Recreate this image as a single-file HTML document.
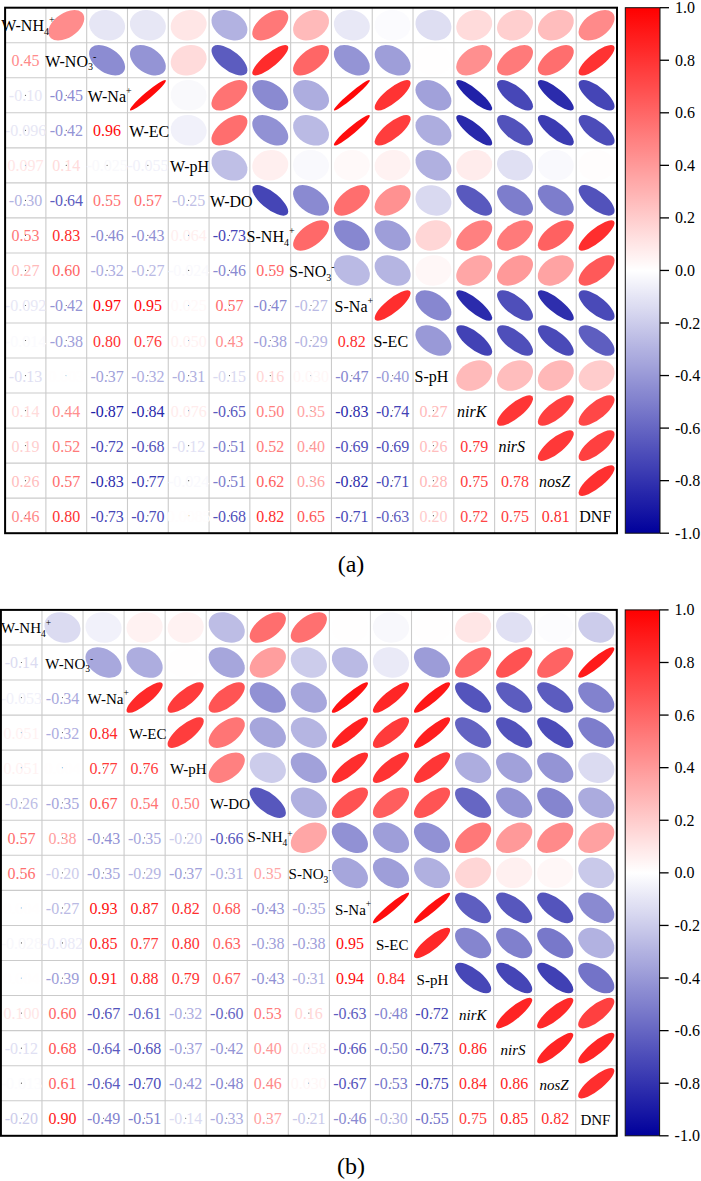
<!DOCTYPE html>
<html><head><meta charset="utf-8"><style>html,body{margin:0;padding:0;background:#fff;width:701px;height:1181px;overflow:hidden}svg{display:block}</style></head><body>
<svg width="701" height="1181" viewBox="0 0 701 1181" font-family="'Liberation Serif', serif" font-size="16">
<rect width="701" height="1181" fill="#fff"/>
<circle r="1" fill="#ff8c8c" transform="matrix(15.3178 -12.9760 -9.4340 -7.9917 66.29 25.22)"/>
<circle r="1" fill="#e6e6f5" transform="matrix(12.0680 -10.2230 -13.3416 -11.3019 107.08 25.22)"/>
<circle r="1" fill="#e7e7f5" transform="matrix(12.0948 -10.2457 -13.3174 -11.2813 147.88 25.22)"/>
<circle r="1" fill="#ffe6e6" transform="matrix(13.3234 -11.2865 -12.0881 -10.2400 188.67 25.22)"/>
<circle r="1" fill="#b2b2e1" transform="matrix(10.6429 -9.0158 -14.5039 -12.2865 229.46 25.22)"/>
<circle r="1" fill="#ff7878" transform="matrix(15.7347 -13.3291 -8.7209 -7.3876 270.26 25.22)"/>
<circle r="1" fill="#ffbaba" transform="matrix(14.3356 -12.1439 -10.8686 -9.2070 311.05 25.22)"/>
<circle r="1" fill="#e8e8f6" transform="matrix(12.1215 -10.2683 -13.2930 -11.2607 351.84 25.22)"/>
<circle r="1" fill="#fbfbfe" transform="matrix(12.6314 -10.7003 -12.8095 -10.8511 392.64 25.22)"/>
<circle r="1" fill="#dedef2" transform="matrix(11.8651 -10.0511 -13.5223 -11.4550 433.43 25.22)"/>
<circle r="1" fill="#ffdbdb" transform="matrix(13.5820 -11.5056 -11.7967 -9.9932 474.22 25.22)"/>
<circle r="1" fill="#ffcfcf" transform="matrix(13.8767 -11.7552 -11.4487 -9.6984 515.02 25.22)"/>
<circle r="1" fill="#ffbdbd" transform="matrix(14.2790 -12.0960 -10.9428 -9.2698 555.81 25.22)"/>
<circle r="1" fill="#ff8a8a" transform="matrix(15.3705 -13.0206 -9.3478 -7.9187 596.60 25.22)"/>
<circle r="1" fill="#8c8cd2" transform="matrix(9.4340 -7.9917 -15.3178 -12.9760 107.08 60.25)"/>
<circle r="1" fill="#9494d5" transform="matrix(9.6878 -8.2067 -15.1585 -12.8410 147.88 60.25)"/>
<circle r="1" fill="#ffdbdb" transform="matrix(13.5820 -11.5056 -11.7967 -9.9932 188.67 60.25)"/>
<circle r="1" fill="#5c5cbf" transform="matrix(7.6325 -6.4656 -16.2905 -13.8000 229.46 60.25)"/>
<circle r="1" fill="#ff2b2b" transform="matrix(17.2083 -14.5774 -5.2449 -4.4430 270.26 60.25)"/>
<circle r="1" fill="#ff6666" transform="matrix(16.0906 -13.6306 -8.0453 -6.8153 311.05 60.25)"/>
<circle r="1" fill="#9494d5" transform="matrix(9.6878 -8.2067 -15.1585 -12.8410 351.84 60.25)"/>
<circle r="1" fill="#9e9ed9" transform="matrix(10.0163 -8.4850 -14.9435 -12.6589 392.64 60.25)"/>
<circle r="1" fill="#fffefe" transform="matrix(12.7398 -10.7921 -12.7017 -10.7598 433.43 60.25)"/>
<circle r="1" fill="#ff8f8f" transform="matrix(15.2649 -12.9311 -9.5193 -8.0640 474.22 60.25)"/>
<circle r="1" fill="#ff7a7a" transform="matrix(15.6832 -13.2855 -8.8132 -7.4658 515.02 60.25)"/>
<circle r="1" fill="#ff6e6e" transform="matrix(15.9391 -13.5022 -8.3416 -7.0663 555.81 60.25)"/>
<circle r="1" fill="#ff3333" transform="matrix(17.0667 -14.4575 -5.6889 -4.8192 596.60 60.25)"/>
<circle r="1" fill="#ff0a0a" transform="matrix(17.8091 -15.0863 -2.5442 -2.1552 147.88 95.28)"/>
<circle r="1" fill="#f9f9fc" transform="matrix(12.5607 -10.6404 -12.8788 -10.9098 188.67 95.28)"/>
<circle r="1" fill="#ff7373" transform="matrix(15.8372 -13.4160 -8.5333 -7.2287 229.46 95.28)"/>
<circle r="1" fill="#8a8ad1" transform="matrix(9.3478 -7.9187 -15.3705 -13.0206 270.26 95.28)"/>
<circle r="1" fill="#adaddf" transform="matrix(10.4898 -8.8861 -14.6150 -12.3806 311.05 95.28)"/>
<circle r="1" fill="#ff0808" transform="matrix(17.8544 -15.1248 -2.2033 -1.8664 351.84 95.28)"/>
<circle r="1" fill="#ff3333" transform="matrix(17.0667 -14.4575 -5.6889 -4.8192 392.64 95.28)"/>
<circle r="1" fill="#a1a1da" transform="matrix(10.0968 -8.5531 -14.8893 -12.6129 433.43 95.28)"/>
<circle r="1" fill="#2121a8" transform="matrix(4.5865 -3.8853 -17.3954 -14.7359 474.22 95.28)"/>
<circle r="1" fill="#4747b7" transform="matrix(6.7312 -5.7021 -16.6831 -14.1325 515.02 95.28)"/>
<circle r="1" fill="#2b2bac" transform="matrix(5.2449 -4.4430 -17.2083 -14.5774 555.81 95.28)"/>
<circle r="1" fill="#4545b6" transform="matrix(6.6099 -5.5993 -16.7315 -14.1736 596.60 95.28)"/>
<circle r="1" fill="#f1f1fa" transform="matrix(12.3660 -10.4754 -13.0659 -11.0683 188.67 130.32)"/>
<circle r="1" fill="#ff6e6e" transform="matrix(15.9391 -13.5022 -8.3416 -7.0663 229.46 130.32)"/>
<circle r="1" fill="#9191d4" transform="matrix(9.6040 -8.1357 -15.2118 -12.8862 270.26 130.32)"/>
<circle r="1" fill="#babae4" transform="matrix(10.8686 -9.2070 -14.3356 -12.1439 311.05 130.32)"/>
<circle r="1" fill="#ff0d0d" transform="matrix(17.7636 -15.0478 -2.8444 -2.4096 351.84 130.32)"/>
<circle r="1" fill="#ff3d3d" transform="matrix(16.8760 -14.2959 -6.2319 -5.2791 392.64 130.32)"/>
<circle r="1" fill="#adaddf" transform="matrix(10.4898 -8.8861 -14.6150 -12.3806 433.43 130.32)"/>
<circle r="1" fill="#2929ab" transform="matrix(5.0883 -4.3104 -17.2553 -14.6172 474.22 130.32)"/>
<circle r="1" fill="#5252bb" transform="matrix(7.1959 -6.0958 -16.4880 -13.9672 515.02 130.32)"/>
<circle r="1" fill="#3b3bb2" transform="matrix(6.1007 -5.1680 -16.9239 -14.3365 555.81 130.32)"/>
<circle r="1" fill="#4c4cb9" transform="matrix(6.9674 -5.9022 -16.5858 -14.0501 596.60 130.32)"/>
<circle r="1" fill="#bfbfe6" transform="matrix(11.0165 -9.3322 -14.2222 -12.0479 229.46 165.35)"/>
<circle r="1" fill="#ffefef" transform="matrix(13.1215 -11.1154 -12.3070 -10.4254 270.26 165.35)"/>
<circle r="1" fill="#f9f9fd" transform="matrix(12.5672 -10.6459 -12.8725 -10.9045 311.05 165.35)"/>
<circle r="1" fill="#fff9f9" transform="matrix(12.8788 -10.9098 -12.5607 -10.6404 351.84 165.35)"/>
<circle r="1" fill="#fff2f2" transform="matrix(13.0349 -11.0421 -12.3987 -10.5031 392.64 165.35)"/>
<circle r="1" fill="#b0b0e0" transform="matrix(10.5667 -8.9512 -14.5596 -12.3336 433.43 165.35)"/>
<circle r="1" fill="#ffecec" transform="matrix(13.1953 -11.1779 -12.2278 -10.3584 474.22 165.35)"/>
<circle r="1" fill="#e0e0f3" transform="matrix(11.9331 -10.1087 -13.4624 -11.4042 515.02 165.35)"/>
<circle r="1" fill="#f9f9fd" transform="matrix(12.5672 -10.6459 -12.8725 -10.9045 555.81 165.35)"/>
<circle r="1" fill="#fffdfd" transform="matrix(12.7747 -10.8217 -12.6666 -10.7301 596.60 165.35)"/>
<circle r="1" fill="#4545b6" transform="matrix(6.6099 -5.5993 -16.7315 -14.1736 270.26 200.38)"/>
<circle r="1" fill="#8a8ad1" transform="matrix(9.3478 -7.9187 -15.3705 -13.0206 311.05 200.38)"/>
<circle r="1" fill="#ff6e6e" transform="matrix(15.9391 -13.5022 -8.3416 -7.0663 351.84 200.38)"/>
<circle r="1" fill="#ff9191" transform="matrix(15.2118 -12.8862 -9.6040 -8.1357 392.64 200.38)"/>
<circle r="1" fill="#d9d9f0" transform="matrix(11.7280 -9.9349 -13.6415 -11.5559 433.43 200.38)"/>
<circle r="1" fill="#5959be" transform="matrix(7.5257 -6.3751 -16.3401 -13.8420 474.22 200.38)"/>
<circle r="1" fill="#7d7dcc" transform="matrix(8.9045 -7.5432 -15.6315 -13.2417 515.02 200.38)"/>
<circle r="1" fill="#7d7dcc" transform="matrix(8.9045 -7.5432 -15.6315 -13.2417 555.81 200.38)"/>
<circle r="1" fill="#5252bb" transform="matrix(7.1959 -6.0958 -16.4880 -13.9672 596.60 200.38)"/>
<circle r="1" fill="#ff6969" transform="matrix(16.0403 -13.5880 -8.1453 -6.9000 311.05 235.42)"/>
<circle r="1" fill="#8787d0" transform="matrix(9.2608 -7.8450 -15.4231 -13.0651 351.84 235.42)"/>
<circle r="1" fill="#9e9ed9" transform="matrix(10.0163 -8.4850 -14.9435 -12.6589 392.64 235.42)"/>
<circle r="1" fill="#ffd6d6" transform="matrix(13.7007 -11.6061 -11.6588 -9.8763 433.43 235.42)"/>
<circle r="1" fill="#ff8080" transform="matrix(15.5797 -13.1978 -8.9949 -7.6197 474.22 235.42)"/>
<circle r="1" fill="#ff7a7a" transform="matrix(15.6832 -13.2855 -8.8132 -7.4658 515.02 235.42)"/>
<circle r="1" fill="#ff6161" transform="matrix(16.1909 -13.7156 -7.8416 -6.6427 555.81 235.42)"/>
<circle r="1" fill="#ff2e2e" transform="matrix(17.1612 -14.5376 -5.3970 -4.5718 596.60 235.42)"/>
<circle r="1" fill="#babae4" transform="matrix(10.8686 -9.2070 -14.3356 -12.1439 351.84 270.45)"/>
<circle r="1" fill="#b5b5e2" transform="matrix(10.7187 -9.0800 -14.4480 -12.2391 392.64 270.45)"/>
<circle r="1" fill="#fff7f7" transform="matrix(12.9102 -10.9364 -12.5285 -10.6131 433.43 270.45)"/>
<circle r="1" fill="#ffa6a6" transform="matrix(14.7802 -12.5205 -10.2558 -8.6879 474.22 270.45)"/>
<circle r="1" fill="#ff9999" transform="matrix(15.0514 -12.7503 -9.8535 -8.3470 515.02 270.45)"/>
<circle r="1" fill="#ffa3a3" transform="matrix(14.8348 -12.5668 -10.1766 -8.6208 555.81 270.45)"/>
<circle r="1" fill="#ff5959" transform="matrix(16.3401 -13.8420 -7.5257 -6.3751 596.60 270.45)"/>
<circle r="1" fill="#ff2e2e" transform="matrix(17.1612 -14.5376 -5.3970 -4.5718 392.64 305.48)"/>
<circle r="1" fill="#8787d0" transform="matrix(9.2608 -7.8450 -15.4231 -13.0651 433.43 305.48)"/>
<circle r="1" fill="#2b2bac" transform="matrix(5.2449 -4.4430 -17.2083 -14.5774 474.22 305.48)"/>
<circle r="1" fill="#4f4fba" transform="matrix(7.0826 -5.9998 -16.5370 -14.0087 515.02 305.48)"/>
<circle r="1" fill="#2e2ead" transform="matrix(5.3970 -4.5719 -17.1612 -14.5376 555.81 305.48)"/>
<circle r="1" fill="#4a4ab8" transform="matrix(6.8503 -5.8030 -16.6345 -14.0914 596.60 305.48)"/>
<circle r="1" fill="#9999d7" transform="matrix(9.8535 -8.3470 -15.0514 -12.7503 433.43 340.52)"/>
<circle r="1" fill="#4242b5" transform="matrix(6.4863 -5.4947 -16.7798 -14.2145 474.22 340.52)"/>
<circle r="1" fill="#4f4fba" transform="matrix(7.0826 -5.9998 -16.5370 -14.0087 515.02 340.52)"/>
<circle r="1" fill="#4a4ab8" transform="matrix(6.8503 -5.8030 -16.6345 -14.0914 555.81 340.52)"/>
<circle r="1" fill="#5e5ec0" transform="matrix(7.7377 -6.5548 -16.2408 -13.7578 596.60 340.52)"/>
<circle r="1" fill="#ffbaba" transform="matrix(14.3356 -12.1439 -10.8686 -9.2070 474.22 375.55)"/>
<circle r="1" fill="#ffbdbd" transform="matrix(14.2790 -12.0960 -10.9428 -9.2698 515.02 375.55)"/>
<circle r="1" fill="#ffb8b8" transform="matrix(14.3919 -12.1916 -10.7939 -9.1437 555.81 375.55)"/>
<circle r="1" fill="#ffcccc" transform="matrix(13.9349 -11.8045 -11.3778 -9.6383 596.60 375.55)"/>
<circle r="1" fill="#ff3636" transform="matrix(17.0192 -14.4172 -5.8294 -4.9382 515.02 410.58)"/>
<circle r="1" fill="#ff4040" transform="matrix(16.8280 -14.2552 -6.3604 -5.3880 555.81 410.58)"/>
<circle r="1" fill="#ff4747" transform="matrix(16.6831 -14.1325 -6.7312 -5.7021 596.60 410.58)"/>
<circle r="1" fill="#ff3838" transform="matrix(16.9716 -14.3769 -5.9666 -5.0544 555.81 445.62)"/>
<circle r="1" fill="#ff4040" transform="matrix(16.8280 -14.2552 -6.3604 -5.3880 596.60 445.62)"/>
<circle r="1" fill="#ff3030" transform="matrix(17.1140 -14.4976 -5.5448 -4.6971 596.60 480.65)"/>
<path d="M45.89 7.70V533.20M5.10 42.73H617.00M86.69 7.70V533.20M5.10 77.77H617.00M127.48 7.70V533.20M5.10 112.80H617.00M168.27 7.70V533.20M5.10 147.83H617.00M209.07 7.70V533.20M5.10 182.87H617.00M249.86 7.70V533.20M5.10 217.90H617.00M290.65 7.70V533.20M5.10 252.93H617.00M331.45 7.70V533.20M5.10 287.97H617.00M372.24 7.70V533.20M5.10 323.00H617.00M413.03 7.70V533.20M5.10 358.03H617.00M453.83 7.70V533.20M5.10 393.07H617.00M494.62 7.70V533.20M5.10 428.10H617.00M535.41 7.70V533.20M5.10 463.13H617.00M576.21 7.70V533.20M5.10 498.17H617.00" stroke="#cbcbcb" stroke-width="1.1" fill="none"/>
<g fill="#555"><circle cx="25.50" cy="60.25" r="0.6"/><circle cx="25.50" cy="95.28" r="0.6"/><circle cx="66.29" cy="95.28" r="0.6"/><circle cx="25.50" cy="130.32" r="0.6"/><circle cx="66.29" cy="130.32" r="0.6"/><circle cx="107.08" cy="130.32" r="0.6"/><circle cx="25.50" cy="165.35" r="0.6"/><circle cx="66.29" cy="165.35" r="0.6"/><circle cx="107.08" cy="165.35" r="0.6"/><circle cx="147.88" cy="165.35" r="0.6"/><circle cx="25.50" cy="200.38" r="0.6"/><circle cx="66.29" cy="200.38" r="0.6"/><circle cx="107.08" cy="200.38" r="0.6"/><circle cx="147.88" cy="200.38" r="0.6"/><circle cx="188.67" cy="200.38" r="0.6"/><circle cx="25.50" cy="235.42" r="0.6"/><circle cx="66.29" cy="235.42" r="0.6"/><circle cx="107.08" cy="235.42" r="0.6"/><circle cx="147.88" cy="235.42" r="0.6"/><circle cx="188.67" cy="235.42" r="0.6"/><circle cx="229.46" cy="235.42" r="0.6"/><circle cx="25.50" cy="270.45" r="0.6"/><circle cx="66.29" cy="270.45" r="0.6"/><circle cx="107.08" cy="270.45" r="0.6"/><circle cx="147.88" cy="270.45" r="0.6"/><circle cx="188.67" cy="270.45" r="0.6"/><circle cx="229.46" cy="270.45" r="0.6"/><circle cx="270.26" cy="270.45" r="0.6"/><circle cx="25.50" cy="305.48" r="0.6"/><circle cx="66.29" cy="305.48" r="0.6"/><circle cx="107.08" cy="305.48" r="0.6"/><circle cx="147.88" cy="305.48" r="0.6"/><circle cx="188.67" cy="305.48" r="0.6"/><circle cx="229.46" cy="305.48" r="0.6"/><circle cx="270.26" cy="305.48" r="0.6"/><circle cx="311.05" cy="305.48" r="0.6"/><circle cx="25.50" cy="340.52" r="0.6"/><circle cx="66.29" cy="340.52" r="0.6"/><circle cx="107.08" cy="340.52" r="0.6"/><circle cx="147.88" cy="340.52" r="0.6"/><circle cx="188.67" cy="340.52" r="0.6"/><circle cx="229.46" cy="340.52" r="0.6"/><circle cx="270.26" cy="340.52" r="0.6"/><circle cx="311.05" cy="340.52" r="0.6"/><circle cx="351.84" cy="340.52" r="0.6"/><circle cx="25.50" cy="375.55" r="0.6"/><circle cx="66.29" cy="375.55" r="0.6"/><circle cx="107.08" cy="375.55" r="0.6"/><circle cx="147.88" cy="375.55" r="0.6"/><circle cx="188.67" cy="375.55" r="0.6"/><circle cx="229.46" cy="375.55" r="0.6"/><circle cx="270.26" cy="375.55" r="0.6"/><circle cx="311.05" cy="375.55" r="0.6"/><circle cx="351.84" cy="375.55" r="0.6"/><circle cx="392.64" cy="375.55" r="0.6"/><circle cx="25.50" cy="410.58" r="0.6"/><circle cx="66.29" cy="410.58" r="0.6"/><circle cx="107.08" cy="410.58" r="0.6"/><circle cx="147.88" cy="410.58" r="0.6"/><circle cx="188.67" cy="410.58" r="0.6"/><circle cx="229.46" cy="410.58" r="0.6"/><circle cx="270.26" cy="410.58" r="0.6"/><circle cx="311.05" cy="410.58" r="0.6"/><circle cx="351.84" cy="410.58" r="0.6"/><circle cx="392.64" cy="410.58" r="0.6"/><circle cx="433.43" cy="410.58" r="0.6"/><circle cx="25.50" cy="445.62" r="0.6"/><circle cx="66.29" cy="445.62" r="0.6"/><circle cx="107.08" cy="445.62" r="0.6"/><circle cx="147.88" cy="445.62" r="0.6"/><circle cx="188.67" cy="445.62" r="0.6"/><circle cx="229.46" cy="445.62" r="0.6"/><circle cx="270.26" cy="445.62" r="0.6"/><circle cx="311.05" cy="445.62" r="0.6"/><circle cx="351.84" cy="445.62" r="0.6"/><circle cx="392.64" cy="445.62" r="0.6"/><circle cx="433.43" cy="445.62" r="0.6"/><circle cx="474.22" cy="445.62" r="0.6"/><circle cx="25.50" cy="480.65" r="0.6"/><circle cx="66.29" cy="480.65" r="0.6"/><circle cx="107.08" cy="480.65" r="0.6"/><circle cx="147.88" cy="480.65" r="0.6"/><circle cx="188.67" cy="480.65" r="0.6"/><circle cx="229.46" cy="480.65" r="0.6"/><circle cx="270.26" cy="480.65" r="0.6"/><circle cx="311.05" cy="480.65" r="0.6"/><circle cx="351.84" cy="480.65" r="0.6"/><circle cx="392.64" cy="480.65" r="0.6"/><circle cx="433.43" cy="480.65" r="0.6"/><circle cx="474.22" cy="480.65" r="0.6"/><circle cx="515.02" cy="480.65" r="0.6"/><circle cx="25.50" cy="515.68" r="0.6"/><circle cx="66.29" cy="515.68" r="0.6"/><circle cx="107.08" cy="515.68" r="0.6"/><circle cx="147.88" cy="515.68" r="0.6"/><circle cx="188.67" cy="515.68" r="0.6"/><circle cx="229.46" cy="515.68" r="0.6"/><circle cx="270.26" cy="515.68" r="0.6"/><circle cx="311.05" cy="515.68" r="0.6"/><circle cx="351.84" cy="515.68" r="0.6"/><circle cx="392.64" cy="515.68" r="0.6"/><circle cx="433.43" cy="515.68" r="0.6"/><circle cx="474.22" cy="515.68" r="0.6"/><circle cx="515.02" cy="515.68" r="0.6"/><circle cx="555.81" cy="515.68" r="0.6"/></g>
<text x="25.50" y="66.25" fill="#ff8c8c" text-anchor="middle">0.45</text>
<text x="25.50" y="101.28" fill="#e6e6f5" text-anchor="middle">-0.10</text>
<text x="66.29" y="101.28" fill="#8c8cd2" text-anchor="middle">-0.45</text>
<text x="25.50" y="136.32" fill="#e7e7f5" text-anchor="middle">-0.096</text>
<text x="66.29" y="136.32" fill="#9494d5" text-anchor="middle">-0.42</text>
<text x="107.08" y="136.32" fill="#ff0a0a" text-anchor="middle">0.96</text>
<text x="25.50" y="171.35" fill="#ffe6e6" text-anchor="middle">0.097</text>
<text x="66.29" y="171.35" fill="#ffdbdb" text-anchor="middle">0.14</text>
<text x="107.08" y="171.35" fill="#f9f9fc" text-anchor="middle">-0.025</text>
<text x="147.88" y="171.35" fill="#f1f1fa" text-anchor="middle">-0.055</text>
<text x="25.50" y="206.38" fill="#b2b2e1" text-anchor="middle">-0.30</text>
<text x="66.29" y="206.38" fill="#5c5cbf" text-anchor="middle">-0.64</text>
<text x="107.08" y="206.38" fill="#ff7373" text-anchor="middle">0.55</text>
<text x="147.88" y="206.38" fill="#ff6e6e" text-anchor="middle">0.57</text>
<text x="188.67" y="206.38" fill="#bfbfe6" text-anchor="middle">-0.25</text>
<text x="25.50" y="241.42" fill="#ff7878" text-anchor="middle">0.53</text>
<text x="66.29" y="241.42" fill="#ff2b2b" text-anchor="middle">0.83</text>
<text x="107.08" y="241.42" fill="#8a8ad1" text-anchor="middle">-0.46</text>
<text x="147.88" y="241.42" fill="#9191d4" text-anchor="middle">-0.43</text>
<text x="188.67" y="241.42" fill="#ffefef" text-anchor="middle">0.064</text>
<text x="229.46" y="241.42" fill="#4545b6" text-anchor="middle">-0.73</text>
<text x="25.50" y="276.45" fill="#ffbaba" text-anchor="middle">0.27</text>
<text x="66.29" y="276.45" fill="#ff6666" text-anchor="middle">0.60</text>
<text x="107.08" y="276.45" fill="#adaddf" text-anchor="middle">-0.32</text>
<text x="147.88" y="276.45" fill="#babae4" text-anchor="middle">-0.27</text>
<text x="188.67" y="276.45" fill="#f9f9fd" text-anchor="middle">-0.024</text>
<text x="229.46" y="276.45" fill="#8a8ad1" text-anchor="middle">-0.46</text>
<text x="270.26" y="276.45" fill="#ff6969" text-anchor="middle">0.59</text>
<text x="25.50" y="311.48" fill="#e8e8f6" text-anchor="middle">-0.092</text>
<text x="66.29" y="311.48" fill="#9494d5" text-anchor="middle">-0.42</text>
<text x="107.08" y="311.48" fill="#ff0808" text-anchor="middle">0.97</text>
<text x="147.88" y="311.48" fill="#ff0d0d" text-anchor="middle">0.95</text>
<text x="188.67" y="311.48" fill="#fff9f9" text-anchor="middle">0.025</text>
<text x="229.46" y="311.48" fill="#ff6e6e" text-anchor="middle">0.57</text>
<text x="270.26" y="311.48" fill="#8787d0" text-anchor="middle">-0.47</text>
<text x="311.05" y="311.48" fill="#babae4" text-anchor="middle">-0.27</text>
<text x="25.50" y="346.52" fill="#fbfbfe" text-anchor="middle">-0.014</text>
<text x="66.29" y="346.52" fill="#9e9ed9" text-anchor="middle">-0.38</text>
<text x="107.08" y="346.52" fill="#ff3333" text-anchor="middle">0.80</text>
<text x="147.88" y="346.52" fill="#ff3d3d" text-anchor="middle">0.76</text>
<text x="188.67" y="346.52" fill="#fff2f2" text-anchor="middle">0.050</text>
<text x="229.46" y="346.52" fill="#ff9191" text-anchor="middle">0.43</text>
<text x="270.26" y="346.52" fill="#9e9ed9" text-anchor="middle">-0.38</text>
<text x="311.05" y="346.52" fill="#b5b5e2" text-anchor="middle">-0.29</text>
<text x="351.84" y="346.52" fill="#ff2e2e" text-anchor="middle">0.82</text>
<text x="25.50" y="381.55" fill="#dedef2" text-anchor="middle">-0.13</text>
<text x="66.29" y="381.55" fill="#fffefe" text-anchor="middle">0.003</text>
<text x="107.08" y="381.55" fill="#a1a1da" text-anchor="middle">-0.37</text>
<text x="147.88" y="381.55" fill="#adaddf" text-anchor="middle">-0.32</text>
<text x="188.67" y="381.55" fill="#b0b0e0" text-anchor="middle">-0.31</text>
<text x="229.46" y="381.55" fill="#d9d9f0" text-anchor="middle">-0.15</text>
<text x="270.26" y="381.55" fill="#ffd6d6" text-anchor="middle">0.16</text>
<text x="311.05" y="381.55" fill="#fff7f7" text-anchor="middle">0.030</text>
<text x="351.84" y="381.55" fill="#8787d0" text-anchor="middle">-0.47</text>
<text x="392.64" y="381.55" fill="#9999d7" text-anchor="middle">-0.40</text>
<text x="25.50" y="416.58" fill="#ffdbdb" text-anchor="middle">0.14</text>
<text x="66.29" y="416.58" fill="#ff8f8f" text-anchor="middle">0.44</text>
<text x="107.08" y="416.58" fill="#2121a8" text-anchor="middle">-0.87</text>
<text x="147.88" y="416.58" fill="#2929ab" text-anchor="middle">-0.84</text>
<text x="188.67" y="416.58" fill="#ffecec" text-anchor="middle">0.076</text>
<text x="229.46" y="416.58" fill="#5959be" text-anchor="middle">-0.65</text>
<text x="270.26" y="416.58" fill="#ff8080" text-anchor="middle">0.50</text>
<text x="311.05" y="416.58" fill="#ffa6a6" text-anchor="middle">0.35</text>
<text x="351.84" y="416.58" fill="#2b2bac" text-anchor="middle">-0.83</text>
<text x="392.64" y="416.58" fill="#4242b5" text-anchor="middle">-0.74</text>
<text x="433.43" y="416.58" fill="#ffbaba" text-anchor="middle">0.27</text>
<text x="25.50" y="451.62" fill="#ffcfcf" text-anchor="middle">0.19</text>
<text x="66.29" y="451.62" fill="#ff7a7a" text-anchor="middle">0.52</text>
<text x="107.08" y="451.62" fill="#4747b7" text-anchor="middle">-0.72</text>
<text x="147.88" y="451.62" fill="#5252bb" text-anchor="middle">-0.68</text>
<text x="188.67" y="451.62" fill="#e0e0f3" text-anchor="middle">-0.12</text>
<text x="229.46" y="451.62" fill="#7d7dcc" text-anchor="middle">-0.51</text>
<text x="270.26" y="451.62" fill="#ff7a7a" text-anchor="middle">0.52</text>
<text x="311.05" y="451.62" fill="#ff9999" text-anchor="middle">0.40</text>
<text x="351.84" y="451.62" fill="#4f4fba" text-anchor="middle">-0.69</text>
<text x="392.64" y="451.62" fill="#4f4fba" text-anchor="middle">-0.69</text>
<text x="433.43" y="451.62" fill="#ffbdbd" text-anchor="middle">0.26</text>
<text x="474.22" y="451.62" fill="#ff3636" text-anchor="middle">0.79</text>
<text x="25.50" y="486.65" fill="#ffbdbd" text-anchor="middle">0.26</text>
<text x="66.29" y="486.65" fill="#ff6e6e" text-anchor="middle">0.57</text>
<text x="107.08" y="486.65" fill="#2b2bac" text-anchor="middle">-0.83</text>
<text x="147.88" y="486.65" fill="#3b3bb2" text-anchor="middle">-0.77</text>
<text x="188.67" y="486.65" fill="#f9f9fd" text-anchor="middle">-0.024</text>
<text x="229.46" y="486.65" fill="#7d7dcc" text-anchor="middle">-0.51</text>
<text x="270.26" y="486.65" fill="#ff6161" text-anchor="middle">0.62</text>
<text x="311.05" y="486.65" fill="#ffa3a3" text-anchor="middle">0.36</text>
<text x="351.84" y="486.65" fill="#2e2ead" text-anchor="middle">-0.82</text>
<text x="392.64" y="486.65" fill="#4a4ab8" text-anchor="middle">-0.71</text>
<text x="433.43" y="486.65" fill="#ffb8b8" text-anchor="middle">0.28</text>
<text x="474.22" y="486.65" fill="#ff4040" text-anchor="middle">0.75</text>
<text x="515.02" y="486.65" fill="#ff3838" text-anchor="middle">0.78</text>
<text x="25.50" y="521.68" fill="#ff8a8a" text-anchor="middle">0.46</text>
<text x="66.29" y="521.68" fill="#ff3333" text-anchor="middle">0.80</text>
<text x="107.08" y="521.68" fill="#4545b6" text-anchor="middle">-0.73</text>
<text x="147.88" y="521.68" fill="#4c4cb9" text-anchor="middle">-0.70</text>
<text x="188.67" y="521.68" fill="#fffdfd" text-anchor="middle">0.0085</text>
<text x="229.46" y="521.68" fill="#5252bb" text-anchor="middle">-0.68</text>
<text x="270.26" y="521.68" fill="#ff2e2e" text-anchor="middle">0.82</text>
<text x="311.05" y="521.68" fill="#ff5959" text-anchor="middle">0.65</text>
<text x="351.84" y="521.68" fill="#4a4ab8" text-anchor="middle">-0.71</text>
<text x="392.64" y="521.68" fill="#5e5ec0" text-anchor="middle">-0.63</text>
<text x="433.43" y="521.68" fill="#ffcccc" text-anchor="middle">0.20</text>
<text x="474.22" y="521.68" fill="#ff4747" text-anchor="middle">0.72</text>
<text x="515.02" y="521.68" fill="#ff4040" text-anchor="middle">0.75</text>
<text x="555.81" y="521.68" fill="#ff3030" text-anchor="middle">0.81</text>
<text x="1.30" y="30.72" fill="#000" font-size="16.0">W-NH<tspan font-size="10.0" dy="3.8">4</tspan><tspan font-size="10.0" dy="-11.1">+</tspan></text>
<text x="45.30" y="66.55" fill="#000" font-size="16.0">W-NO<tspan font-size="10.0" dy="3.8">3</tspan><tspan font-size="10.0" dy="-10.1">-</tspan></text>
<text x="87.80" y="101.58" fill="#000" font-size="16.0">W-Na<tspan font-size="10.0" dy="-7.3">+</tspan></text>
<text x="129.20" y="136.62" fill="#000" font-size="16.0">W-EC</text>
<text x="170.00" y="171.65" fill="#000" font-size="16.0">W-pH</text>
<text x="210.00" y="206.68" fill="#000" font-size="16.0">W-DO</text>
<text x="246.60" y="241.72" fill="#000" font-size="16.0">S-NH<tspan font-size="10.0" dy="3.8">4</tspan><tspan font-size="10.0" dy="-11.1">+</tspan></text>
<text x="289.00" y="276.75" fill="#000" font-size="16.0">S-NO<tspan font-size="10.0" dy="3.8">3</tspan><tspan font-size="10.0" dy="-10.1">-</tspan></text>
<text x="334.60" y="311.78" fill="#000" font-size="16.0">S-Na<tspan font-size="10.0" dy="-7.3">+</tspan></text>
<text x="373.40" y="346.82" fill="#000" font-size="16.0">S-EC</text>
<text x="414.60" y="381.85" fill="#000" font-size="16.0">S-pH</text>
<text x="457.00" y="416.88" fill="#000" font-size="16.0" font-style="italic">nirK</text>
<text x="498.40" y="451.92" fill="#000" font-size="16.0" font-style="italic">nirS</text>
<text x="539.00" y="486.95" fill="#000" font-size="16.0" font-style="italic">nosZ</text>
<text x="579.30" y="521.98" fill="#000" font-size="16.0">DNF</text>
<rect x="5.10" y="7.70" width="611.90" height="525.50" fill="none" stroke="#000" stroke-width="2"/>
<defs><linearGradient id="g7" x1="0" y1="0" x2="0" y2="1"><stop offset="0.0000" stop-color="#ff0000"/><stop offset="0.0250" stop-color="#ff0d0d"/><stop offset="0.0500" stop-color="#ff1a1a"/><stop offset="0.0750" stop-color="#ff2626"/><stop offset="0.1000" stop-color="#ff3333"/><stop offset="0.1250" stop-color="#ff4040"/><stop offset="0.1500" stop-color="#ff4c4c"/><stop offset="0.1750" stop-color="#ff5959"/><stop offset="0.2000" stop-color="#ff6666"/><stop offset="0.2250" stop-color="#ff7373"/><stop offset="0.2500" stop-color="#ff8080"/><stop offset="0.2750" stop-color="#ff8c8c"/><stop offset="0.3000" stop-color="#ff9999"/><stop offset="0.3250" stop-color="#ffa6a6"/><stop offset="0.3500" stop-color="#ffb2b2"/><stop offset="0.3750" stop-color="#ffbfbf"/><stop offset="0.4000" stop-color="#ffcccc"/><stop offset="0.4250" stop-color="#ffd9d9"/><stop offset="0.4500" stop-color="#ffe6e6"/><stop offset="0.4750" stop-color="#fff2f2"/><stop offset="0.5000" stop-color="#ffffff"/><stop offset="0.5250" stop-color="#f2f2fa"/><stop offset="0.5500" stop-color="#e5e5f5"/><stop offset="0.5750" stop-color="#d9d9f0"/><stop offset="0.6000" stop-color="#cccceb"/><stop offset="0.6250" stop-color="#bfbfe6"/><stop offset="0.6500" stop-color="#b2b2e1"/><stop offset="0.6750" stop-color="#a6a6dc"/><stop offset="0.7000" stop-color="#9999d7"/><stop offset="0.7250" stop-color="#8c8cd2"/><stop offset="0.7500" stop-color="#8080cd"/><stop offset="0.7750" stop-color="#7373c8"/><stop offset="0.8000" stop-color="#6666c3"/><stop offset="0.8250" stop-color="#5959be"/><stop offset="0.8500" stop-color="#4c4cb9"/><stop offset="0.8750" stop-color="#4040b4"/><stop offset="0.9000" stop-color="#3333af"/><stop offset="0.9250" stop-color="#2626aa"/><stop offset="0.9500" stop-color="#1a1aa5"/><stop offset="0.9750" stop-color="#0d0da0"/><stop offset="1.0000" stop-color="#00009b"/></linearGradient></defs>
<rect x="625.30" y="7.70" width="34.70" height="525.50" fill="url(#g7)" stroke="#111" stroke-width="1"/>
<path d="M660.00 7.70H669.00" stroke="#000" stroke-width="1.3"/>
<text x="675.00" y="13.20" fill="#000">1.0</text>
<path d="M660.00 60.25H669.00" stroke="#000" stroke-width="1.3"/>
<text x="675.00" y="65.75" fill="#000">0.8</text>
<path d="M660.00 112.80H669.00" stroke="#000" stroke-width="1.3"/>
<text x="675.00" y="118.30" fill="#000">0.6</text>
<path d="M660.00 165.35H669.00" stroke="#000" stroke-width="1.3"/>
<text x="675.00" y="170.85" fill="#000">0.4</text>
<path d="M660.00 217.90H669.00" stroke="#000" stroke-width="1.3"/>
<text x="675.00" y="223.40" fill="#000">0.2</text>
<path d="M660.00 270.45H669.00" stroke="#000" stroke-width="1.3"/>
<text x="675.00" y="275.95" fill="#000">0.0</text>
<path d="M660.00 323.00H669.00" stroke="#000" stroke-width="1.3"/>
<text x="675.00" y="328.50" fill="#000">-0.2</text>
<path d="M660.00 375.55H669.00" stroke="#000" stroke-width="1.3"/>
<text x="675.00" y="381.05" fill="#000">-0.4</text>
<path d="M660.00 428.10H669.00" stroke="#000" stroke-width="1.3"/>
<text x="675.00" y="433.60" fill="#000">-0.6</text>
<path d="M660.00 480.65H669.00" stroke="#000" stroke-width="1.3"/>
<text x="675.00" y="486.15" fill="#000">-0.8</text>
<path d="M660.00 533.20H669.00" stroke="#000" stroke-width="1.3"/>
<text x="675.00" y="538.70" fill="#000">-1.0</text>
<text x="351" y="571.6" text-anchor="middle" font-size="24" fill="#000">(a)</text>
<circle r="1" fill="#dbdbf1" transform="matrix(11.8739 -10.0008 -13.6708 -11.5143 62.49 627.43)"/>
<circle r="1" fill="#f1f1fa" transform="matrix(12.4600 -10.4945 -13.1388 -11.0662 103.55 627.43)"/>
<circle r="1" fill="#fff2f2" transform="matrix(13.1263 -11.0557 -12.4731 -10.5056 144.61 627.43)"/>
<circle r="1" fill="#fff2f2" transform="matrix(13.1263 -11.0557 -12.4731 -10.5056 185.67 627.43)"/>
<circle r="1" fill="#bdbde5" transform="matrix(11.0143 -9.2769 -14.3724 -12.1052 226.73 627.43)"/>
<circle r="1" fill="#ff6e6e" transform="matrix(16.0433 -13.5125 -8.3961 -7.0716 267.79 627.43)"/>
<circle r="1" fill="#ff7070" transform="matrix(15.9921 -13.4694 -8.4932 -7.1534 308.85 627.43)"/>
<circle r="1" fill="#fffefe" transform="matrix(12.8295 -10.8057 -12.7783 -10.7626 349.91 627.43)"/>
<circle r="1" fill="#f8f8fc" transform="matrix(12.6234 -10.6321 -12.9819 -10.9341 390.97 627.43)"/>
<circle r="1" fill="#fffefe" transform="matrix(12.8295 -10.8057 -12.7783 -10.7626 432.03 627.43)"/>
<circle r="1" fill="#ffe6e6" transform="matrix(13.4289 -11.3105 -12.1469 -10.2307 473.09 627.43)"/>
<circle r="1" fill="#e0e0f3" transform="matrix(12.0111 -10.1164 -13.5504 -11.4129 514.15 627.43)"/>
<circle r="1" fill="#fcfcfe" transform="matrix(12.7204 -10.7138 -12.8869 -10.8540 555.21 627.43)"/>
<circle r="1" fill="#cccceb" transform="matrix(11.4522 -9.6456 -14.0260 -11.8135 596.27 627.43)"/>
<circle r="1" fill="#a8a8dd" transform="matrix(10.4019 -8.7611 -14.8216 -12.4836 103.55 662.49)"/>
<circle r="1" fill="#adaddf" transform="matrix(10.5584 -8.8928 -14.7106 -12.3901 144.61 662.49)"/>
<circle r="1" fill="#fffefe" transform="matrix(12.8295 -10.8057 -12.7783 -10.7626 185.67 662.49)"/>
<circle r="1" fill="#a6a6dc" transform="matrix(10.3228 -8.6945 -14.8768 -12.5301 226.73 662.49)"/>
<circle r="1" fill="#ff9e9e" transform="matrix(15.0412 -12.6685 -10.0818 -8.4915 267.79 662.49)"/>
<circle r="1" fill="#cccceb" transform="matrix(11.4522 -9.6456 -14.0260 -11.8135 308.85 662.49)"/>
<circle r="1" fill="#babae4" transform="matrix(10.9397 -9.2140 -14.4293 -12.1531 349.91 662.49)"/>
<circle r="1" fill="#eaeaf7" transform="matrix(12.2677 -10.3325 -13.3185 -11.2176 390.97 662.49)"/>
<circle r="1" fill="#9c9cd8" transform="matrix(10.0002 -8.4227 -15.0956 -12.7143 432.03 662.49)"/>
<circle r="1" fill="#ff6666" transform="matrix(16.1958 -13.6410 -8.0979 -6.8205 473.09 662.49)"/>
<circle r="1" fill="#ff5252" transform="matrix(16.5958 -13.9779 -7.2430 -6.1004 514.15 662.49)"/>
<circle r="1" fill="#ff6363" transform="matrix(16.2463 -13.6836 -7.9960 -6.7347 555.21 662.49)"/>
<circle r="1" fill="#ff1a1a" transform="matrix(17.6490 -14.8649 -4.0490 -3.4102 596.27 662.49)"/>
<circle r="1" fill="#ff2929" transform="matrix(17.3681 -14.6283 -5.1216 -4.3137 144.61 697.55)"/>
<circle r="1" fill="#ff3b3b" transform="matrix(17.0345 -14.3474 -6.1405 -5.1719 185.67 697.55)"/>
<circle r="1" fill="#ff5454" transform="matrix(16.5463 -13.9362 -7.3553 -6.1950 226.73 697.55)"/>
<circle r="1" fill="#9191d4" transform="matrix(9.6667 -8.1419 -15.3112 -12.8960 267.79 697.55)"/>
<circle r="1" fill="#a6a6dc" transform="matrix(10.3228 -8.6945 -14.8768 -12.5301 308.85 697.55)"/>
<circle r="1" fill="#ff1212" transform="matrix(17.7878 -14.9818 -3.3876 -2.8532 349.91 697.55)"/>
<circle r="1" fill="#ff2626" transform="matrix(17.4152 -14.6680 -4.9589 -4.1767 390.97 697.55)"/>
<circle r="1" fill="#ff1717" transform="matrix(17.6954 -14.9040 -3.8412 -3.2352 432.03 697.55)"/>
<circle r="1" fill="#5454bc" transform="matrix(7.3553 -6.1950 -16.5463 -13.9362 473.09 697.55)"/>
<circle r="1" fill="#5c5cbf" transform="matrix(7.6823 -6.4705 -16.3970 -13.8105 514.15 697.55)"/>
<circle r="1" fill="#5c5cbf" transform="matrix(7.6823 -6.4705 -16.3970 -13.8105 555.21 697.55)"/>
<circle r="1" fill="#8282ce" transform="matrix(9.1438 -7.7014 -15.6292 -13.1637 596.27 697.55)"/>
<circle r="1" fill="#ff3d3d" transform="matrix(16.9863 -14.3068 -6.2726 -5.2831 185.67 732.61)"/>
<circle r="1" fill="#ff7575" transform="matrix(15.8892 -13.3828 -8.6840 -7.3142 226.73 732.61)"/>
<circle r="1" fill="#a6a6dc" transform="matrix(10.3228 -8.6945 -14.8768 -12.5301 267.79 732.61)"/>
<circle r="1" fill="#b5b5e2" transform="matrix(10.7888 -9.0869 -14.5424 -12.2484 308.85 732.61)"/>
<circle r="1" fill="#ff2121" transform="matrix(17.5091 -14.7471 -4.6165 -3.8883 349.91 732.61)"/>
<circle r="1" fill="#ff3b3b" transform="matrix(17.0345 -14.3474 -6.1405 -5.1719 390.97 732.61)"/>
<circle r="1" fill="#ff1f1f" transform="matrix(17.5558 -14.7865 -4.4354 -3.7357 432.03 732.61)"/>
<circle r="1" fill="#6363c2" transform="matrix(7.9960 -6.7347 -16.2463 -13.6836 473.09 732.61)"/>
<circle r="1" fill="#5252bb" transform="matrix(7.2430 -6.1004 -16.5958 -13.9779 514.15 732.61)"/>
<circle r="1" fill="#4c4cb9" transform="matrix(7.0130 -5.9067 -16.6943 -14.0608 555.21 732.61)"/>
<circle r="1" fill="#7d7dcc" transform="matrix(8.9627 -7.5489 -15.7337 -13.2518 596.27 732.61)"/>
<circle r="1" fill="#ff8080" transform="matrix(15.6815 -13.2078 -9.0537 -7.6255 226.73 767.67)"/>
<circle r="1" fill="#cccceb" transform="matrix(11.4522 -9.6456 -14.0260 -11.8135 267.79 767.67)"/>
<circle r="1" fill="#a1a1da" transform="matrix(10.1628 -8.5597 -14.9866 -12.6225 308.85 767.67)"/>
<circle r="1" fill="#ff2e2e" transform="matrix(17.2734 -14.5486 -5.4322 -4.5753 349.91 767.67)"/>
<circle r="1" fill="#ff3333" transform="matrix(17.1782 -14.4685 -5.7261 -4.8228 390.97 767.67)"/>
<circle r="1" fill="#ff3636" transform="matrix(17.1305 -14.4282 -5.8675 -4.9419 432.03 767.67)"/>
<circle r="1" fill="#adaddf" transform="matrix(10.5584 -8.8928 -14.7106 -12.3901 473.09 767.67)"/>
<circle r="1" fill="#a1a1da" transform="matrix(10.1628 -8.5597 -14.9866 -12.6225 514.15 767.67)"/>
<circle r="1" fill="#9494d5" transform="matrix(9.7512 -8.2130 -15.2576 -12.8508 555.21 767.67)"/>
<circle r="1" fill="#dbdbf1" transform="matrix(11.8739 -10.0008 -13.6708 -11.5143 596.27 767.67)"/>
<circle r="1" fill="#5757bd" transform="matrix(7.4659 -6.2882 -16.4967 -13.8944 267.79 802.73)"/>
<circle r="1" fill="#b0b0e0" transform="matrix(10.6357 -8.9580 -14.6547 -12.3430 308.85 802.73)"/>
<circle r="1" fill="#ff5252" transform="matrix(16.5958 -13.9779 -7.2430 -6.1004 349.91 802.73)"/>
<circle r="1" fill="#ff5e5e" transform="matrix(16.3469 -13.7683 -7.7883 -6.5597 390.97 802.73)"/>
<circle r="1" fill="#ff5454" transform="matrix(16.5463 -13.9362 -7.3553 -6.1950 432.03 802.73)"/>
<circle r="1" fill="#6666c3" transform="matrix(8.0979 -6.8205 -16.1958 -13.6410 473.09 802.73)"/>
<circle r="1" fill="#9494d5" transform="matrix(9.7512 -8.2130 -15.2576 -12.8508 514.15 802.73)"/>
<circle r="1" fill="#8585cf" transform="matrix(9.2330 -7.7766 -15.5766 -13.1195 555.21 802.73)"/>
<circle r="1" fill="#ababde" transform="matrix(10.4805 -8.8272 -14.7662 -12.4369 596.27 802.73)"/>
<circle r="1" fill="#ffa6a6" transform="matrix(14.8768 -12.5301 -10.3228 -8.6945 308.85 837.79)"/>
<circle r="1" fill="#9191d4" transform="matrix(9.6667 -8.1419 -15.3112 -12.8960 349.91 837.79)"/>
<circle r="1" fill="#9e9ed9" transform="matrix(10.0818 -8.4915 -15.0412 -12.6685 390.97 837.79)"/>
<circle r="1" fill="#9191d4" transform="matrix(9.6667 -8.1419 -15.3112 -12.8960 432.03 837.79)"/>
<circle r="1" fill="#ff7878" transform="matrix(15.8376 -13.3393 -8.7779 -7.3932 473.09 837.79)"/>
<circle r="1" fill="#ff9999" transform="matrix(15.1498 -12.7600 -9.9179 -8.3534 514.15 837.79)"/>
<circle r="1" fill="#ff8a8a" transform="matrix(15.4710 -13.0305 -9.4089 -7.9247 555.21 837.79)"/>
<circle r="1" fill="#ffa1a1" transform="matrix(14.9866 -12.6225 -10.1628 -8.5597 596.27 837.79)"/>
<circle r="1" fill="#a6a6dc" transform="matrix(10.3228 -8.6945 -14.8768 -12.5301 349.91 872.85)"/>
<circle r="1" fill="#9e9ed9" transform="matrix(10.0818 -8.4915 -15.0412 -12.6685 390.97 872.85)"/>
<circle r="1" fill="#b0b0e0" transform="matrix(10.6357 -8.9580 -14.6547 -12.3430 432.03 872.85)"/>
<circle r="1" fill="#ffd6d6" transform="matrix(13.7902 -11.6149 -11.7350 -9.8838 473.09 872.85)"/>
<circle r="1" fill="#fff0f0" transform="matrix(13.1700 -11.0925 -12.4270 -10.4667 514.15 872.85)"/>
<circle r="1" fill="#fff7f7" transform="matrix(12.9945 -10.9447 -12.6104 -10.6212 555.21 872.85)"/>
<circle r="1" fill="#c9c9ea" transform="matrix(11.3804 -9.5852 -14.0843 -11.8626 596.27 872.85)"/>
<circle r="1" fill="#ff0d0d" transform="matrix(17.8797 -15.0593 -2.8630 -2.4114 390.97 907.91)"/>
<circle r="1" fill="#ff0f0f" transform="matrix(17.8338 -15.0206 -3.1363 -2.6416 432.03 907.91)"/>
<circle r="1" fill="#5e5ec0" transform="matrix(7.7883 -6.5597 -16.3469 -13.7683 473.09 907.91)"/>
<circle r="1" fill="#5757bd" transform="matrix(7.4659 -6.2882 -16.4967 -13.8944 514.15 907.91)"/>
<circle r="1" fill="#5454bc" transform="matrix(7.3553 -6.1950 -16.5463 -13.9362 555.21 907.91)"/>
<circle r="1" fill="#8a8ad1" transform="matrix(9.4089 -7.9247 -15.4710 -13.0305 596.27 907.91)"/>
<circle r="1" fill="#ff2929" transform="matrix(17.3681 -14.6283 -5.1216 -4.3137 432.03 942.97)"/>
<circle r="1" fill="#8585cf" transform="matrix(9.2330 -7.7766 -15.5766 -13.1195 473.09 942.97)"/>
<circle r="1" fill="#8080cd" transform="matrix(9.0537 -7.6255 -15.6815 -13.2078 514.15 942.97)"/>
<circle r="1" fill="#7878ca" transform="matrix(8.7779 -7.3932 -15.8376 -13.3393 555.21 942.97)"/>
<circle r="1" fill="#b2b2e1" transform="matrix(10.7125 -9.0227 -14.5987 -12.2958 596.27 942.97)"/>
<circle r="1" fill="#4747b7" transform="matrix(6.7752 -5.7064 -16.7922 -14.1433 473.09 978.03)"/>
<circle r="1" fill="#4545b6" transform="matrix(6.6531 -5.6036 -16.8409 -14.1843 514.15 978.03)"/>
<circle r="1" fill="#4040b4" transform="matrix(6.4020 -5.3921 -16.9380 -14.2661 555.21 978.03)"/>
<circle r="1" fill="#7373c8" transform="matrix(8.5891 -7.2342 -15.9407 -13.4262 596.27 978.03)"/>
<circle r="1" fill="#ff2424" transform="matrix(17.4622 -14.7076 -4.7908 -4.0351 514.15 1013.09)"/>
<circle r="1" fill="#ff2929" transform="matrix(17.3681 -14.6283 -5.1216 -4.3137 555.21 1013.09)"/>
<circle r="1" fill="#ff4040" transform="matrix(16.9380 -14.2661 -6.4020 -5.3921 596.27 1013.09)"/>
<circle r="1" fill="#ff2424" transform="matrix(17.4622 -14.7076 -4.7908 -4.0351 555.21 1048.15)"/>
<circle r="1" fill="#ff2626" transform="matrix(17.4152 -14.6680 -4.9589 -4.1767 596.27 1048.15)"/>
<circle r="1" fill="#ff2e2e" transform="matrix(17.2734 -14.5486 -5.4322 -4.5753 596.27 1083.21)"/>
<path d="M41.96 609.90V1135.80M0.90 644.96H616.80M83.02 609.90V1135.80M0.90 680.02H616.80M124.08 609.90V1135.80M0.90 715.08H616.80M165.14 609.90V1135.80M0.90 750.14H616.80M206.20 609.90V1135.80M0.90 785.20H616.80M247.26 609.90V1135.80M0.90 820.26H616.80M288.32 609.90V1135.80M0.90 855.32H616.80M329.38 609.90V1135.80M0.90 890.38H616.80M370.44 609.90V1135.80M0.90 925.44H616.80M411.50 609.90V1135.80M0.90 960.50H616.80M452.56 609.90V1135.80M0.90 995.56H616.80M493.62 609.90V1135.80M0.90 1030.62H616.80M534.68 609.90V1135.80M0.90 1065.68H616.80M575.74 609.90V1135.80M0.90 1100.74H616.80" stroke="#cbcbcb" stroke-width="1.1" fill="none"/>
<g fill="#555"><circle cx="21.43" cy="662.49" r="0.6"/><circle cx="21.43" cy="697.55" r="0.6"/><circle cx="62.49" cy="697.55" r="0.6"/><circle cx="21.43" cy="732.61" r="0.6"/><circle cx="62.49" cy="732.61" r="0.6"/><circle cx="103.55" cy="732.61" r="0.6"/><circle cx="21.43" cy="767.67" r="0.6"/><circle cx="62.49" cy="767.67" r="0.6"/><circle cx="103.55" cy="767.67" r="0.6"/><circle cx="144.61" cy="767.67" r="0.6"/><circle cx="21.43" cy="802.73" r="0.6"/><circle cx="62.49" cy="802.73" r="0.6"/><circle cx="103.55" cy="802.73" r="0.6"/><circle cx="144.61" cy="802.73" r="0.6"/><circle cx="185.67" cy="802.73" r="0.6"/><circle cx="21.43" cy="837.79" r="0.6"/><circle cx="62.49" cy="837.79" r="0.6"/><circle cx="103.55" cy="837.79" r="0.6"/><circle cx="144.61" cy="837.79" r="0.6"/><circle cx="185.67" cy="837.79" r="0.6"/><circle cx="226.73" cy="837.79" r="0.6"/><circle cx="21.43" cy="872.85" r="0.6"/><circle cx="62.49" cy="872.85" r="0.6"/><circle cx="103.55" cy="872.85" r="0.6"/><circle cx="144.61" cy="872.85" r="0.6"/><circle cx="185.67" cy="872.85" r="0.6"/><circle cx="226.73" cy="872.85" r="0.6"/><circle cx="267.79" cy="872.85" r="0.6"/><circle cx="21.43" cy="907.91" r="0.6"/><circle cx="62.49" cy="907.91" r="0.6"/><circle cx="103.55" cy="907.91" r="0.6"/><circle cx="144.61" cy="907.91" r="0.6"/><circle cx="185.67" cy="907.91" r="0.6"/><circle cx="226.73" cy="907.91" r="0.6"/><circle cx="267.79" cy="907.91" r="0.6"/><circle cx="308.85" cy="907.91" r="0.6"/><circle cx="21.43" cy="942.97" r="0.6"/><circle cx="62.49" cy="942.97" r="0.6"/><circle cx="103.55" cy="942.97" r="0.6"/><circle cx="144.61" cy="942.97" r="0.6"/><circle cx="185.67" cy="942.97" r="0.6"/><circle cx="226.73" cy="942.97" r="0.6"/><circle cx="267.79" cy="942.97" r="0.6"/><circle cx="308.85" cy="942.97" r="0.6"/><circle cx="349.91" cy="942.97" r="0.6"/><circle cx="21.43" cy="978.03" r="0.6"/><circle cx="62.49" cy="978.03" r="0.6"/><circle cx="103.55" cy="978.03" r="0.6"/><circle cx="144.61" cy="978.03" r="0.6"/><circle cx="185.67" cy="978.03" r="0.6"/><circle cx="226.73" cy="978.03" r="0.6"/><circle cx="267.79" cy="978.03" r="0.6"/><circle cx="308.85" cy="978.03" r="0.6"/><circle cx="349.91" cy="978.03" r="0.6"/><circle cx="390.97" cy="978.03" r="0.6"/><circle cx="21.43" cy="1013.09" r="0.6"/><circle cx="62.49" cy="1013.09" r="0.6"/><circle cx="103.55" cy="1013.09" r="0.6"/><circle cx="144.61" cy="1013.09" r="0.6"/><circle cx="185.67" cy="1013.09" r="0.6"/><circle cx="226.73" cy="1013.09" r="0.6"/><circle cx="267.79" cy="1013.09" r="0.6"/><circle cx="308.85" cy="1013.09" r="0.6"/><circle cx="349.91" cy="1013.09" r="0.6"/><circle cx="390.97" cy="1013.09" r="0.6"/><circle cx="432.03" cy="1013.09" r="0.6"/><circle cx="21.43" cy="1048.15" r="0.6"/><circle cx="62.49" cy="1048.15" r="0.6"/><circle cx="103.55" cy="1048.15" r="0.6"/><circle cx="144.61" cy="1048.15" r="0.6"/><circle cx="185.67" cy="1048.15" r="0.6"/><circle cx="226.73" cy="1048.15" r="0.6"/><circle cx="267.79" cy="1048.15" r="0.6"/><circle cx="308.85" cy="1048.15" r="0.6"/><circle cx="349.91" cy="1048.15" r="0.6"/><circle cx="390.97" cy="1048.15" r="0.6"/><circle cx="432.03" cy="1048.15" r="0.6"/><circle cx="473.09" cy="1048.15" r="0.6"/><circle cx="21.43" cy="1083.21" r="0.6"/><circle cx="62.49" cy="1083.21" r="0.6"/><circle cx="103.55" cy="1083.21" r="0.6"/><circle cx="144.61" cy="1083.21" r="0.6"/><circle cx="185.67" cy="1083.21" r="0.6"/><circle cx="226.73" cy="1083.21" r="0.6"/><circle cx="267.79" cy="1083.21" r="0.6"/><circle cx="308.85" cy="1083.21" r="0.6"/><circle cx="349.91" cy="1083.21" r="0.6"/><circle cx="390.97" cy="1083.21" r="0.6"/><circle cx="432.03" cy="1083.21" r="0.6"/><circle cx="473.09" cy="1083.21" r="0.6"/><circle cx="514.15" cy="1083.21" r="0.6"/><circle cx="21.43" cy="1118.27" r="0.6"/><circle cx="62.49" cy="1118.27" r="0.6"/><circle cx="103.55" cy="1118.27" r="0.6"/><circle cx="144.61" cy="1118.27" r="0.6"/><circle cx="185.67" cy="1118.27" r="0.6"/><circle cx="226.73" cy="1118.27" r="0.6"/><circle cx="267.79" cy="1118.27" r="0.6"/><circle cx="308.85" cy="1118.27" r="0.6"/><circle cx="349.91" cy="1118.27" r="0.6"/><circle cx="390.97" cy="1118.27" r="0.6"/><circle cx="432.03" cy="1118.27" r="0.6"/><circle cx="473.09" cy="1118.27" r="0.6"/><circle cx="514.15" cy="1118.27" r="0.6"/><circle cx="555.21" cy="1118.27" r="0.6"/></g>
<text x="21.43" y="668.49" fill="#dbdbf1" text-anchor="middle">-0.14</text>
<text x="21.43" y="703.55" fill="#f1f1fa" text-anchor="middle">-0.053</text>
<text x="62.49" y="703.55" fill="#a8a8dd" text-anchor="middle">-0.34</text>
<text x="21.43" y="738.61" fill="#fff2f2" text-anchor="middle">0.051</text>
<text x="62.49" y="738.61" fill="#adaddf" text-anchor="middle">-0.32</text>
<text x="103.55" y="738.61" fill="#ff2929" text-anchor="middle">0.84</text>
<text x="21.43" y="773.67" fill="#fff2f2" text-anchor="middle">0.051</text>
<text x="62.49" y="773.67" fill="#fffefe" text-anchor="middle">0.004</text>
<text x="103.55" y="773.67" fill="#ff3b3b" text-anchor="middle">0.77</text>
<text x="144.61" y="773.67" fill="#ff3d3d" text-anchor="middle">0.76</text>
<text x="21.43" y="808.73" fill="#bdbde5" text-anchor="middle">-0.26</text>
<text x="62.49" y="808.73" fill="#a6a6dc" text-anchor="middle">-0.35</text>
<text x="103.55" y="808.73" fill="#ff5454" text-anchor="middle">0.67</text>
<text x="144.61" y="808.73" fill="#ff7575" text-anchor="middle">0.54</text>
<text x="185.67" y="808.73" fill="#ff8080" text-anchor="middle">0.50</text>
<text x="21.43" y="843.79" fill="#ff6e6e" text-anchor="middle">0.57</text>
<text x="62.49" y="843.79" fill="#ff9e9e" text-anchor="middle">0.38</text>
<text x="103.55" y="843.79" fill="#9191d4" text-anchor="middle">-0.43</text>
<text x="144.61" y="843.79" fill="#a6a6dc" text-anchor="middle">-0.35</text>
<text x="185.67" y="843.79" fill="#cccceb" text-anchor="middle">-0.20</text>
<text x="226.73" y="843.79" fill="#5757bd" text-anchor="middle">-0.66</text>
<text x="21.43" y="878.85" fill="#ff7070" text-anchor="middle">0.56</text>
<text x="62.49" y="878.85" fill="#cccceb" text-anchor="middle">-0.20</text>
<text x="103.55" y="878.85" fill="#a6a6dc" text-anchor="middle">-0.35</text>
<text x="144.61" y="878.85" fill="#b5b5e2" text-anchor="middle">-0.29</text>
<text x="185.67" y="878.85" fill="#a1a1da" text-anchor="middle">-0.37</text>
<text x="226.73" y="878.85" fill="#b0b0e0" text-anchor="middle">-0.31</text>
<text x="267.79" y="878.85" fill="#ffa6a6" text-anchor="middle">0.35</text>
<text x="21.43" y="913.91" fill="#fffefe" text-anchor="middle">0.004</text>
<text x="62.49" y="913.91" fill="#babae4" text-anchor="middle">-0.27</text>
<text x="103.55" y="913.91" fill="#ff1212" text-anchor="middle">0.93</text>
<text x="144.61" y="913.91" fill="#ff2121" text-anchor="middle">0.87</text>
<text x="185.67" y="913.91" fill="#ff2e2e" text-anchor="middle">0.82</text>
<text x="226.73" y="913.91" fill="#ff5252" text-anchor="middle">0.68</text>
<text x="267.79" y="913.91" fill="#9191d4" text-anchor="middle">-0.43</text>
<text x="308.85" y="913.91" fill="#a6a6dc" text-anchor="middle">-0.35</text>
<text x="21.43" y="948.97" fill="#f8f8fc" text-anchor="middle">-0.028</text>
<text x="62.49" y="948.97" fill="#eaeaf7" text-anchor="middle">-0.082</text>
<text x="103.55" y="948.97" fill="#ff2626" text-anchor="middle">0.85</text>
<text x="144.61" y="948.97" fill="#ff3b3b" text-anchor="middle">0.77</text>
<text x="185.67" y="948.97" fill="#ff3333" text-anchor="middle">0.80</text>
<text x="226.73" y="948.97" fill="#ff5e5e" text-anchor="middle">0.63</text>
<text x="267.79" y="948.97" fill="#9e9ed9" text-anchor="middle">-0.38</text>
<text x="308.85" y="948.97" fill="#9e9ed9" text-anchor="middle">-0.38</text>
<text x="349.91" y="948.97" fill="#ff0d0d" text-anchor="middle">0.95</text>
<text x="21.43" y="984.03" fill="#fffefe" text-anchor="middle">0.004</text>
<text x="62.49" y="984.03" fill="#9c9cd8" text-anchor="middle">-0.39</text>
<text x="103.55" y="984.03" fill="#ff1717" text-anchor="middle">0.91</text>
<text x="144.61" y="984.03" fill="#ff1f1f" text-anchor="middle">0.88</text>
<text x="185.67" y="984.03" fill="#ff3636" text-anchor="middle">0.79</text>
<text x="226.73" y="984.03" fill="#ff5454" text-anchor="middle">0.67</text>
<text x="267.79" y="984.03" fill="#9191d4" text-anchor="middle">-0.43</text>
<text x="308.85" y="984.03" fill="#b0b0e0" text-anchor="middle">-0.31</text>
<text x="349.91" y="984.03" fill="#ff0f0f" text-anchor="middle">0.94</text>
<text x="390.97" y="984.03" fill="#ff2929" text-anchor="middle">0.84</text>
<text x="21.43" y="1019.09" fill="#ffe6e6" text-anchor="middle">0.100</text>
<text x="62.49" y="1019.09" fill="#ff6666" text-anchor="middle">0.60</text>
<text x="103.55" y="1019.09" fill="#5454bc" text-anchor="middle">-0.67</text>
<text x="144.61" y="1019.09" fill="#6363c2" text-anchor="middle">-0.61</text>
<text x="185.67" y="1019.09" fill="#adaddf" text-anchor="middle">-0.32</text>
<text x="226.73" y="1019.09" fill="#6666c3" text-anchor="middle">-0.60</text>
<text x="267.79" y="1019.09" fill="#ff7878" text-anchor="middle">0.53</text>
<text x="308.85" y="1019.09" fill="#ffd6d6" text-anchor="middle">0.16</text>
<text x="349.91" y="1019.09" fill="#5e5ec0" text-anchor="middle">-0.63</text>
<text x="390.97" y="1019.09" fill="#8585cf" text-anchor="middle">-0.48</text>
<text x="432.03" y="1019.09" fill="#4747b7" text-anchor="middle">-0.72</text>
<text x="21.43" y="1054.15" fill="#e0e0f3" text-anchor="middle">-0.12</text>
<text x="62.49" y="1054.15" fill="#ff5252" text-anchor="middle">0.68</text>
<text x="103.55" y="1054.15" fill="#5c5cbf" text-anchor="middle">-0.64</text>
<text x="144.61" y="1054.15" fill="#5252bb" text-anchor="middle">-0.68</text>
<text x="185.67" y="1054.15" fill="#a1a1da" text-anchor="middle">-0.37</text>
<text x="226.73" y="1054.15" fill="#9494d5" text-anchor="middle">-0.42</text>
<text x="267.79" y="1054.15" fill="#ff9999" text-anchor="middle">0.40</text>
<text x="308.85" y="1054.15" fill="#fff0f0" text-anchor="middle">0.058</text>
<text x="349.91" y="1054.15" fill="#5757bd" text-anchor="middle">-0.66</text>
<text x="390.97" y="1054.15" fill="#8080cd" text-anchor="middle">-0.50</text>
<text x="432.03" y="1054.15" fill="#4545b6" text-anchor="middle">-0.73</text>
<text x="473.09" y="1054.15" fill="#ff2424" text-anchor="middle">0.86</text>
<text x="21.43" y="1089.21" fill="#fcfcfe" text-anchor="middle">-0.013</text>
<text x="62.49" y="1089.21" fill="#ff6363" text-anchor="middle">0.61</text>
<text x="103.55" y="1089.21" fill="#5c5cbf" text-anchor="middle">-0.64</text>
<text x="144.61" y="1089.21" fill="#4c4cb9" text-anchor="middle">-0.70</text>
<text x="185.67" y="1089.21" fill="#9494d5" text-anchor="middle">-0.42</text>
<text x="226.73" y="1089.21" fill="#8585cf" text-anchor="middle">-0.48</text>
<text x="267.79" y="1089.21" fill="#ff8a8a" text-anchor="middle">0.46</text>
<text x="308.85" y="1089.21" fill="#fff7f7" text-anchor="middle">0.030</text>
<text x="349.91" y="1089.21" fill="#5454bc" text-anchor="middle">-0.67</text>
<text x="390.97" y="1089.21" fill="#7878ca" text-anchor="middle">-0.53</text>
<text x="432.03" y="1089.21" fill="#4040b4" text-anchor="middle">-0.75</text>
<text x="473.09" y="1089.21" fill="#ff2929" text-anchor="middle">0.84</text>
<text x="514.15" y="1089.21" fill="#ff2424" text-anchor="middle">0.86</text>
<text x="21.43" y="1124.27" fill="#cccceb" text-anchor="middle">-0.20</text>
<text x="62.49" y="1124.27" fill="#ff1a1a" text-anchor="middle">0.90</text>
<text x="103.55" y="1124.27" fill="#8282ce" text-anchor="middle">-0.49</text>
<text x="144.61" y="1124.27" fill="#7d7dcc" text-anchor="middle">-0.51</text>
<text x="185.67" y="1124.27" fill="#dbdbf1" text-anchor="middle">-0.14</text>
<text x="226.73" y="1124.27" fill="#ababde" text-anchor="middle">-0.33</text>
<text x="267.79" y="1124.27" fill="#ffa1a1" text-anchor="middle">0.37</text>
<text x="308.85" y="1124.27" fill="#c9c9ea" text-anchor="middle">-0.21</text>
<text x="349.91" y="1124.27" fill="#8a8ad1" text-anchor="middle">-0.46</text>
<text x="390.97" y="1124.27" fill="#b2b2e1" text-anchor="middle">-0.30</text>
<text x="432.03" y="1124.27" fill="#7373c8" text-anchor="middle">-0.55</text>
<text x="473.09" y="1124.27" fill="#ff4040" text-anchor="middle">0.75</text>
<text x="514.15" y="1124.27" fill="#ff2626" text-anchor="middle">0.85</text>
<text x="555.21" y="1124.27" fill="#ff2e2e" text-anchor="middle">0.82</text>
<text x="1.00" y="633.43" fill="#000" font-size="15.0">W-NH<tspan font-size="9.5" dy="3.8">4</tspan><tspan font-size="9.5" dy="-11.1">+</tspan></text>
<text x="45.30" y="668.57" fill="#000" font-size="15.0">W-NO<tspan font-size="9.5" dy="3.8">3</tspan><tspan font-size="9.5" dy="-10.1">-</tspan></text>
<text x="87.60" y="703.71" fill="#000" font-size="15.0">W-Na<tspan font-size="9.5" dy="-7.3">+</tspan></text>
<text x="129.00" y="738.85" fill="#000" font-size="15.0">W-EC</text>
<text x="170.00" y="773.99" fill="#000" font-size="15.0">W-pH</text>
<text x="210.00" y="809.13" fill="#000" font-size="15.0">W-DO</text>
<text x="247.60" y="841.57" fill="#000" font-size="15.0">S-NH<tspan font-size="9.5" dy="4.3">4</tspan><tspan font-size="9.5" dy="-8.9">+</tspan></text>
<text x="288.60" y="879.41" fill="#000" font-size="15.0">S-NO<tspan font-size="9.5" dy="3.8">3</tspan><tspan font-size="9.5" dy="-10.1">-</tspan></text>
<text x="335.00" y="914.55" fill="#000" font-size="15.0">S-Na<tspan font-size="9.5" dy="-7.3">+</tspan></text>
<text x="376.00" y="949.69" fill="#000" font-size="15.0">S-EC</text>
<text x="416.60" y="984.83" fill="#000" font-size="15.0">S-pH</text>
<text x="459.00" y="1019.97" fill="#000" font-size="15.0" font-style="italic">nirK</text>
<text x="500.60" y="1055.11" fill="#000" font-size="15.0" font-style="italic">nirS</text>
<text x="539.40" y="1090.25" fill="#000" font-size="15.0" font-style="italic">nosZ</text>
<text x="580.40" y="1125.39" fill="#000" font-size="15.0">DNF</text>
<rect x="0.90" y="609.90" width="615.90" height="525.90" fill="none" stroke="#000" stroke-width="2"/>
<defs><linearGradient id="g609" x1="0" y1="0" x2="0" y2="1"><stop offset="0.0000" stop-color="#ff0000"/><stop offset="0.0250" stop-color="#ff0d0d"/><stop offset="0.0500" stop-color="#ff1a1a"/><stop offset="0.0750" stop-color="#ff2626"/><stop offset="0.1000" stop-color="#ff3333"/><stop offset="0.1250" stop-color="#ff4040"/><stop offset="0.1500" stop-color="#ff4c4c"/><stop offset="0.1750" stop-color="#ff5959"/><stop offset="0.2000" stop-color="#ff6666"/><stop offset="0.2250" stop-color="#ff7373"/><stop offset="0.2500" stop-color="#ff8080"/><stop offset="0.2750" stop-color="#ff8c8c"/><stop offset="0.3000" stop-color="#ff9999"/><stop offset="0.3250" stop-color="#ffa6a6"/><stop offset="0.3500" stop-color="#ffb2b2"/><stop offset="0.3750" stop-color="#ffbfbf"/><stop offset="0.4000" stop-color="#ffcccc"/><stop offset="0.4250" stop-color="#ffd9d9"/><stop offset="0.4500" stop-color="#ffe6e6"/><stop offset="0.4750" stop-color="#fff2f2"/><stop offset="0.5000" stop-color="#ffffff"/><stop offset="0.5250" stop-color="#f2f2fa"/><stop offset="0.5500" stop-color="#e5e5f5"/><stop offset="0.5750" stop-color="#d9d9f0"/><stop offset="0.6000" stop-color="#cccceb"/><stop offset="0.6250" stop-color="#bfbfe6"/><stop offset="0.6500" stop-color="#b2b2e1"/><stop offset="0.6750" stop-color="#a6a6dc"/><stop offset="0.7000" stop-color="#9999d7"/><stop offset="0.7250" stop-color="#8c8cd2"/><stop offset="0.7500" stop-color="#8080cd"/><stop offset="0.7750" stop-color="#7373c8"/><stop offset="0.8000" stop-color="#6666c3"/><stop offset="0.8250" stop-color="#5959be"/><stop offset="0.8500" stop-color="#4c4cb9"/><stop offset="0.8750" stop-color="#4040b4"/><stop offset="0.9000" stop-color="#3333af"/><stop offset="0.9250" stop-color="#2626aa"/><stop offset="0.9500" stop-color="#1a1aa5"/><stop offset="0.9750" stop-color="#0d0da0"/><stop offset="1.0000" stop-color="#00009b"/></linearGradient></defs>
<rect x="625.20" y="609.90" width="34.40" height="525.90" fill="url(#g609)" stroke="#111" stroke-width="1"/>
<path d="M659.60 609.90H668.60" stroke="#000" stroke-width="1.3"/>
<text x="674.60" y="615.40" fill="#000">1.0</text>
<path d="M659.60 662.49H668.60" stroke="#000" stroke-width="1.3"/>
<text x="674.60" y="667.99" fill="#000">0.8</text>
<path d="M659.60 715.08H668.60" stroke="#000" stroke-width="1.3"/>
<text x="674.60" y="720.58" fill="#000">0.6</text>
<path d="M659.60 767.67H668.60" stroke="#000" stroke-width="1.3"/>
<text x="674.60" y="773.17" fill="#000">0.4</text>
<path d="M659.60 820.26H668.60" stroke="#000" stroke-width="1.3"/>
<text x="674.60" y="825.76" fill="#000">0.2</text>
<path d="M659.60 872.85H668.60" stroke="#000" stroke-width="1.3"/>
<text x="674.60" y="878.35" fill="#000">0.0</text>
<path d="M659.60 925.44H668.60" stroke="#000" stroke-width="1.3"/>
<text x="674.60" y="930.94" fill="#000">-0.2</text>
<path d="M659.60 978.03H668.60" stroke="#000" stroke-width="1.3"/>
<text x="674.60" y="983.53" fill="#000">-0.4</text>
<path d="M659.60 1030.62H668.60" stroke="#000" stroke-width="1.3"/>
<text x="674.60" y="1036.12" fill="#000">-0.6</text>
<path d="M659.60 1083.21H668.60" stroke="#000" stroke-width="1.3"/>
<text x="674.60" y="1088.71" fill="#000">-0.8</text>
<path d="M659.60 1135.80H668.60" stroke="#000" stroke-width="1.3"/>
<text x="674.60" y="1141.30" fill="#000">-1.0</text>
<text x="351" y="1174.4" text-anchor="middle" font-size="24" fill="#000">(b)</text>
</svg>
</body></html>
